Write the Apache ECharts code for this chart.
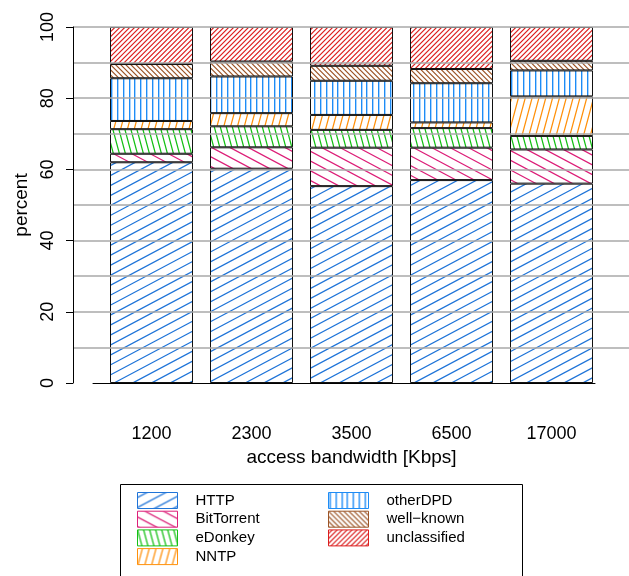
<!DOCTYPE html>
<html>
<head>
<meta charset="utf-8">
<script src="https://cdn.jsdelivr.net/npm/echarts@6/dist/echarts.min.js"></script>
<style>html,body{margin:0;padding:0;background:#fff;}#c{width:629px;height:576px;}</style>
</head>
<body>
<div id="c"></div>
<script>
// ---- data ----
const categories = ['1200', '2300', '3500', '6500', '17000'];
const seriesNames = ['HTTP', 'BitTorrent', 'eDonkey', 'NNTP', 'otherDPD', 'well\u2212known', 'unclassified'];
const HTTP         = [62.0, 60.2, 55.3, 57.0, 56.0];
const BitTorrent   = [2.4, 6.0, 10.8, 9.1, 9.6];
const eDonkey      = [6.9, 5.9, 5.0, 5.5, 3.8];
const NNTP         = [2.3, 3.7, 4.2, 1.6, 11.1];
const otherDPD     = [12.0, 10.3, 9.6, 11.0, 7.3];
const wellKnown    = [4.0, 4.2, 4.2, 4.0, 2.7];
const unclassified = [10.4, 9.7, 10.9, 11.8, 9.5];
const yTicks = [0, 20, 40, 60, 80, 100];

// ---- styles ----
const FONT = '"Liberation Sans", Arial, Helvetica, sans-serif';
function hatch(color, angleDeg, spacing, lw, halo) {
  const S = 720;
  const cv = document.createElement('canvas');
  cv.width = S; cv.height = S;
  const ctx = cv.getContext('2d');
  ctx.fillStyle = '#fff';
  ctx.fillRect(0, 0, S, S);
  if (angleDeg === 90) {
    for (let x = 1; x < S; x += spacing) {
      const xi = Math.round(x);
      if (halo) { ctx.fillStyle = halo; ctx.fillRect(xi + 1, 0, 1, S); }
      ctx.fillStyle = color; ctx.fillRect(xi, 0, 1, S);
    }
  } else {
    ctx.save();
    ctx.translate(S / 2, S / 2);
    ctx.rotate(-angleDeg * Math.PI / 180);
    ctx.strokeStyle = color;
    ctx.lineWidth = lw;
    ctx.beginPath();
    for (let d = -S; d <= S; d += spacing) {
      ctx.moveTo(-S, d); ctx.lineTo(S, d);
    }
    ctx.stroke();
    ctx.restore();
  }
  return { image: cv, repeat: 'repeat' };
}
const styles = [
  { c: '#1f74d8', p: hatch('#1f74d8', 28, 8.8, 1.25) },
  { c: '#dc1f78', p: hatch('#dc1f78', -28, 8.6, 1.25) },
  { c: '#14c014', p: hatch('#14c014', -75, 5.8, 1.25) },
  { c: '#ff900a', p: hatch('#ff900a', 75, 6.6, 1.25) },
  { c: '#1e8cf5', p: hatch('#1e8cf5', 90, 5.8, 1, '#a8d4ff') },
  { c: '#9c5426', p: hatch('#9c5426', -45, 3.6, 1.15) },
  { c: '#dc1e1e', p: hatch('#dc1e1e', 45, 3.5, 1.15) }
];
const values = [HTTP, BitTorrent, eDonkey, NNTP, otherDPD, wellKnown, unclassified];

const series = seriesNames.map((n, i) => ({
  name: n,
  type: 'bar',
  stack: 'all',
  xAxisIndex: 1,
  yAxisIndex: 1,
  barWidth: 83,
  data: values[i],
  itemStyle: { color: styles[i].p, borderColor: '#111', borderWidth: 1 },
  emphasis: { disabled: true },
  silent: true,
  animation: false
}));

const legendData = seriesNames.map((n, i) => ({
  name: n,
  itemStyle: { color: styles[i].p, borderColor: styles[i].c, borderWidth: 1 }
}));
const legendCommon = {
  orient: 'vertical',
  top: 492,
  icon: 'rect',
  itemWidth: 40,
  itemHeight: 16,
  itemGap: 1.7,
  selectedMode: false,
  padding: 0,
  textStyle: { fontFamily: FONT, fontSize: 15, color: '#000', padding: [0, 0, 0, 13] }
};

const chart = echarts.init(document.getElementById('c'), null, { renderer: 'canvas' });
chart.setOption({
  animation: false,
  backgroundColor: '#fff',
  textStyle: { fontFamily: FONT },
  grid: [
    { left: 73, right: 0, top: 27, height: 356, containLabel: false },
    { left: 101.5, width: 500, top: 27, height: 356, containLabel: false },
    { left: 93, width: 502, top: 27, height: 356, containLabel: false }
  ],
  xAxis: [
    { gridIndex: 0, type: 'value', show: false },
    {
      gridIndex: 1, type: 'category', data: categories,
      axisLine: { show: false }, axisTick: { show: false },
      axisLabel: { fontSize: 18, color: '#000', margin: 42, fontFamily: FONT },
      name: 'access bandwidth [Kbps]', nameLocation: 'middle', nameGap: 55,
      nameTextStyle: { fontSize: 19, color: '#000', fontFamily: FONT }
    },
    {
      gridIndex: 2, type: 'value', min: 0, max: 1,
      axisLine: { show: true, lineStyle: { color: '#000', width: 1 } },
      axisTick: { show: false }, axisLabel: { show: false }, splitLine: { show: false }
    }
  ],
  yAxis: [
    {
      gridIndex: 0, type: 'value', min: yTicks[0], max: yTicks[yTicks.length - 1], interval: 20,
      z: 5,
      axisLine: { show: true, lineStyle: { color: '#000', width: 1 } },
      axisTick: { show: true, length: 7, lineStyle: { color: '#000', width: 1 } },
      axisLabel: { rotate: 90, fontSize: 18, color: '#000', margin: 16, fontFamily: FONT },
      splitLine: { show: true, showMinLine: false, lineStyle: { color: '#a8a8a8', width: 1.6 } },
      minorTick: { show: false, splitNumber: 2 },
      minorSplitLine: { show: true, lineStyle: { color: '#a8a8a8', width: 1.6 } },
      name: 'percent', nameLocation: 'middle', nameGap: 41,
      nameTextStyle: { fontSize: 19, color: '#000', fontFamily: FONT }
    },
    { gridIndex: 1, type: 'value', min: 0, max: 100, show: false },
    { gridIndex: 2, type: 'value', min: 0, max: 100, show: false }
  ],
  legend: [
    Object.assign({}, legendCommon, { left: 137, data: legendData.slice(0, 4) }),
    Object.assign({}, legendCommon, { left: 328, data: legendData.slice(4) })
  ],
  graphic: [
    { type: 'rect', left: 118, top: 482, shape: { width: 402, height: 120 },
      style: { fill: 'none', stroke: '#000', lineWidth: 1 }, silent: true }
  ],
  series: series
});
</script>
</body>
</html>
